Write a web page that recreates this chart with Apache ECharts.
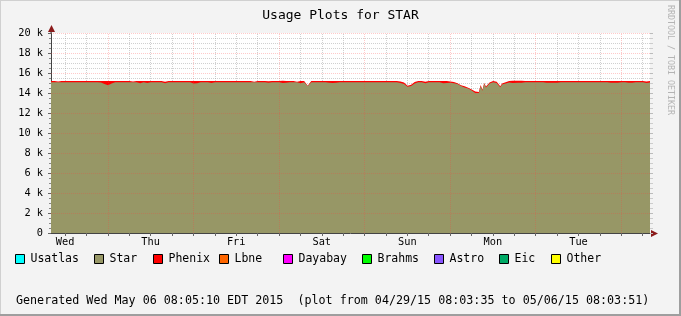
<!DOCTYPE html>
<html><head><meta charset="utf-8">
<script src="https://cdn.jsdelivr.net/npm/echarts@6/dist/echarts.min.js"></script>
<style>html,body{margin:0;padding:0;background:#f3f3f3}#c{width:681px;height:316px}</style>
</head><body><div id="c"></div><script>
// hours since 04/29/15 08:03:35
const hours = [
0,1,2,3,4,5,6,7,8,9,10,11,12,13,14,15,16,17,18,19,20,21,22,23,24,25,26,27,28,29,
30,31,32,33,34,35,36,37,38,39,40,41,42,43,44,45,46,47,48,49,50,51,52,53,54,55,56,57,58,59,
60,61,62,63,64,65,66,67,68,69,70,71,72,73,74,75,76,77,78,79,80,81,82,83,84,85,86,87,88,89,
90,91,92,93,94,95,96,97,98,99,100,101,102,103,104,105,106,107,108,109,110,111,112,
113,113.5,114,114.5,115,115.5,116,116.5,117,117.5,118,118.5,119,119.5,120,120.5,121,121.5,
122,122.5,123,123.5,124,124.5,125,125.5,126,126.5,127,127.5,128,128.5,129,129.5,
130,131,132,133,134,135,136,137,138,139,140,141,142,143,144,145,146,147,148,149,
150,151,152,153,154,155,156,157,158,159,160,161,162,163,164,165,166,167,168
];
const starJobs = [
15080,15080,15080,15080,15080,15080,15080,15080,15080,15080,
15080,15080,15080,15080,15060,14900,14780,14950,15080,15080,
15080,15080,15080,15080,15080,14980,15080,15000,15080,15080,
15080,15080,14980,15080,15080,15080,15080,15080,15080,15080,
14950,14980,15080,15080,15080,15010,15080,15080,15080,15080,
15080,15080,15080,15080,15080,15080,15080,15080,15080,15080,
15080,15030,15080,15080,15080,15000,15020,15080,15080,15080,
14980,15080,14700,15080,15080,15080,15080,15080,15020,15000,
15020,15080,15080,15080,15080,15080,15080,15080,15080,15080,
15080,15080,15080,15080,15080,15080,15080,15080,15000,14900,
14620,14700,14950,15080,15080,14980,15080,15080,15080,15080,
14980,14990,15030,
14980,14950,14900,14800,14700,14650,14560,14500,14450,14350,14250,14150,14000,13820,14000,14700,14220,14920,
14550,14600,14950,15000,15080,15080,15000,14800,14580,14850,14900,14950,15030,15050,15000,15000,
15020,15020,15030,15080,15080,15080,15080,15080,15080,15030,
15030,15030,15030,15080,15080,15080,15080,15080,15080,15080,
15080,15080,15080,15080,15080,15080,15080,15030,15030,15030,
15080,15080,15030,15030,15080,15080,15080,15000,15060
];
const phenixJobs = [
130,130,70,130,130,130,130,130,130,130,
130,130,130,130,150,310,430,260,130,130,
130,130,130,60,130,230,130,210,130,130,
130,130,150,130,130,130,130,130,130,130,
260,230,130,130,130,200,130,130,130,130,
130,130,130,130,130,130,130,40,130,130,
130,150,130,130,130,230,190,130,130,50,
230,130,30,130,130,130,130,130,190,210,
190,130,130,130,130,130,130,130,130,130,
130,130,130,130,130,130,130,130,150,150,
100,120,150,130,130,150,130,130,130,130,
230,220,130,
120,100,80,100,80,100,120,100,80,120,100,120,150,180,100,100,100,80,
100,100,100,120,130,130,120,100,100,100,120,120,120,150,220,220,
200,200,190,130,130,130,130,130,130,180,
180,180,180,130,130,130,130,130,130,130,
130,130,130,130,130,130,130,180,180,180,
130,130,180,180,130,130,130,150,130
];
const legendNames = ['Usatlas','Star','Phenix','Lbne','Dayabay','Brahms','Astro','Eic','Other'];
const legendColors = ['#00ffff','#979766','#ff0000','#ff6600','#ff00ff','#00ff00','#8855ff','#00aa66','#ffff00'];
const dayLabels = ['Wed','Thu','Fri','Sat','Sun','Mon','Tue'];
const dayLabelHours = [3.94,27.94,51.94,75.94,99.94,123.94,147.94];
const midnightHours = [15.94,39.94,63.94,87.94,111.94,135.94,159.94];
const sixHourHours = [3.94,9.94,21.94,27.94,33.94,45.94,51.94,57.94,69.94,75.94,81.94,93.94,99.94,105.94,
  117.94,123.94,129.94,141.94,147.94,153.94,165.94];
const majorLevels = [2000,4000,6000,8000,10000,12000,14000,16000,18000,20000];
const titleText = 'Usage Plots for STAR';
const footerText = 'Generated Wed May 06 08:05:10 EDT 2015  (plot from 04/29/15 08:03:35 to 05/06/15 08:03:51)';
const sideText = 'RRDTOOL / TOBI OETIKER';

const MONO = '"DejaVu Sans Mono", monospace';
const legendLeft = [15,94,153,219,283,362,434,499,551];
const G = {left:51, right:31, top:33, bottom:83};
const W = 681, H = 316;
const x0 = G.left, x1 = W - G.right, y0 = H - G.bottom, y1 = G.top;

const chart = echarts.init(document.getElementById('c'), null, {renderer:'canvas'});

const allTicks = sixHourHours.concat(midnightHours).sort((a,b)=>a-b);
// Phenix is stacked on top of Star: its area reaches Star + Phenix, Star drawn over it
const stackedTop = hours.map((h,i)=>[h, starJobs[i] + phenixJobs[i]]);
const series = [
  { name:'minorGrid', type:'line', data:[], z:1, silent:true,
    markLine:{ z:1, silent:true, symbol:'none', label:{show:false}, animation:false,
      lineStyle:{color:'rgba(150,150,150,0.45)', type:[1,1], width:1},
      data: sixHourHours.map(h=>({xAxis:h})) } },
  { name:'Phenix', type:'line', z:2, symbol:'none', showSymbol:false, sampling:'none',
    lineStyle:{width:0}, itemStyle:{color:legendColors[2]}, areaStyle:{color:legendColors[2], opacity:1},
    data: stackedTop },
  { name:'Star', type:'line', z:3, symbol:'none', showSymbol:false, sampling:'none',
    lineStyle:{width:0}, itemStyle:{color:legendColors[1]}, areaStyle:{color:legendColors[1], opacity:1},
    data: hours.map((h,i)=>[h, starJobs[i]]) },
  { name:'majorGrid', type:'line', data:[], z:5, silent:true,
    markLine:{ z:5, silent:true, symbol:'none', label:{show:false}, animation:false,
      lineStyle:{color:'rgba(255,60,60,0.28)', type:[1,1], width:1},
      data: midnightHours.map(h=>({xAxis:h})).concat(majorLevels.map(v=>({yAxis:v}))) } }
];
legendNames.forEach((n,i)=>{
  if (n !== 'Star' && n !== 'Phenix') {
    series.push({ name:n, type:'line', data:[], itemStyle:{color:legendColors[i]}, lineStyle:{color:legendColors[i]} });
  }
});

const legends = legendNames.map((n,i)=>({
  data:[n], left:legendLeft[i], top:253, padding:0, itemGap:0, icon:'rect',
  itemWidth:9, itemHeight:9, selectedMode:false,
  itemStyle:{borderColor:'#000', borderWidth:1, color:legendColors[i]},
  textStyle:{fontFamily:MONO, fontSize:11.5, color:'#000', padding:[0,0,0,1]}
}));

const option = {
  backgroundColor:'#f3f3f3',
  animation:false,
  title:{ text:titleText, left:'center', top:4,
    textStyle:{fontFamily:MONO, fontSize:13, fontWeight:'normal', color:'#000'} },
  legend: legends,
  grid:{ left:G.left, right:G.right, top:G.top, bottom:G.bottom, show:true, backgroundColor:'#ffffff', borderWidth:0, containLabel:false },
  xAxis:{ type:'value', min:0, max:168,
    axisLine:{show:true, lineStyle:{color:'#444', width:1}},
    axisTick:{show:true, customValues:allTicks, length:3, lineStyle:{color:'#666'}},
    axisLabel:{ customValues:dayLabelHours, margin:4, color:'#000', fontFamily:MONO, fontSize:10.3,
      formatter:(v)=>{ let best=0; dayLabelHours.forEach((h,i)=>{ if (Math.abs(h-v) < Math.abs(dayLabelHours[best]-v)) best=i; }); return dayLabels[best]; } },
    splitLine:{show:false} },
  yAxis:[{ type:'value', min:0, max:20000, interval:2000,
    axisLine:{show:true, lineStyle:{color:'#444', width:1}},
    axisTick:{show:true, length:3, lineStyle:{color:'#666'}},
    minorTick:{show:true, splitNumber:4, length:2, lineStyle:{color:'#888'}},
    axisLabel:{ margin:8, color:'#000', fontFamily:MONO, fontSize:10.3, padding:[3,0,0,0],
      formatter:(v)=> v===0 ? '0' : (v/1000)+' k' },
    splitLine:{show:false},
    minorSplitLine:{show:true, lineStyle:{color:'rgba(150,150,150,0.45)', type:[1,1], width:1}} },
   { type:'value', min:0, max:20000, interval:2000, position:'right',
    axisLine:{show:false}, axisLabel:{show:false}, splitLine:{show:false},
    axisTick:{show:true, length:3, lineStyle:{color:'#bbb'}},
    minorTick:{show:true, splitNumber:4, length:3, lineStyle:{color:'#ccc'}} }],
  series: series,
  graphic:[
    { type:'line', shape:{x1:x0, y1:y1, x2:x0, y2:y1-5}, style:{stroke:'#444', lineWidth:1} },
    { type:'line', shape:{x1:x1, y1:y0+0.5, x2:x1+4, y2:y0+0.5}, style:{stroke:'#444', lineWidth:1} },
    { type:'polygon', shape:{points:[[x0+0.5,y1-8],[x0-3,y1-1],[x0+4,y1-1]]}, style:{fill:'#8b1a1a'} },
    { type:'polygon', shape:{points:[[x1+8,y0+0.5],[x1+1,y0-3],[x1+1,y0+4]]}, style:{fill:'#8b1a1a'} },
    { type:'text', left:16, top:295, style:{text:footerText, font:'11.7px '+MONO, fill:'#000'} },
    { type:'text', x:670, y:5, rotation:-Math.PI/2,
      style:{text:sideText, font:'8.3px '+MONO, fill:'#b4b4b4', verticalAlign:'middle', align:'left'} },
    { type:'rect', shape:{x:0, y:0, width:W, height:1}, style:{fill:'#d0d0d0'} },
    { type:'rect', shape:{x:0, y:0, width:1, height:H}, style:{fill:'#d0d0d0'} },
    { type:'rect', shape:{x:W-2, y:0, width:2, height:H}, style:{fill:'#9e9e9e'} },
    { type:'rect', shape:{x:0, y:H-2, width:W, height:2}, style:{fill:'#9e9e9e'} }
  ]
};
chart.setOption(option);
</script></body></html>
